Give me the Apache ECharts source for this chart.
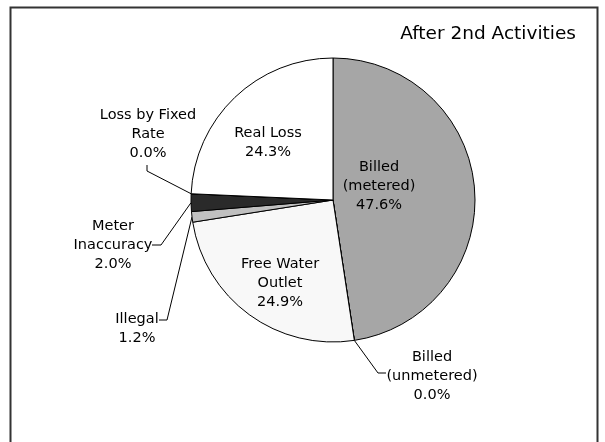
<!DOCTYPE html>
<html>
<head>
<meta charset="utf-8">
<style>
  html, body { margin: 0; padding: 0; background: #ffffff; }
  #chart { width: 605px; height: 442px; }
</style>
<script src="https://cdn.jsdelivr.net/npm/echarts@6/dist/echarts.min.js"></script>
</head>
<body>
<div id="chart"></div>
<script>
// Water balance shares (%), clockwise from 12 o'clock
const categories = [
  'Billed\n(metered)',
  'Billed\n(unmetered)',
  'Free Water\nOutlet',
  'Illegal',
  'Meter\nInaccuracy',
  'Loss by Fixed\nRate',
  'Real Loss'
];
const shares = [47.6, 0.0, 24.9, 1.2, 2.0, 0.0, 24.3];
const sliceColors = ['#a6a6a6', '#d9d9d9', '#f8f8f8', '#c0c0c0', '#2a2a2a', '#000000', '#ffffff'];
const chartTitle = 'After 2nd Activities';

// Label placement (label block centre, plus leader elbow/end for outside labels)
const labelPlacement = [
  { x: 379, y: 186, inside: true },
  { x: 432, y: 376, elbow: [378, 373], end: [386, 373] },
  { x: 280, y: 283, inside: true },
  { x: 137, y: 329, elbow: [167, 320], end: [159, 320] },
  { x: 113, y: 245, elbow: [161, 245], end: [152, 245] },
  { x: 148, y: 134, elbow: [147, 171], end: [147, 165] },
  { x: 268, y: 143, inside: true }
];

const FONT = 'DejaVu Sans';

const chart = echarts.init(document.getElementById('chart'), null, { renderer: 'canvas' });

const data = categories.map((name, i) => ({
  name: name,
  value: shares[i],
  itemStyle: { color: sliceColors[i] },
  label: { position: labelPlacement[i].inside ? 'inside' : 'outside' },
  labelLine: { show: !labelPlacement[i].inside }
}));

chart.setOption({
  animation: false,
  backgroundColor: '#ffffff',
  title: {
    text: chartTitle,
    right: 24,
    top: 20,
    textStyle: { fontFamily: FONT, fontSize: 18.5, fontWeight: 'normal', color: '#000000' }
  },
  graphic: [{
    type: 'rect',
    shape: { x: 10.5, y: 7.5, width: 587, height: 470 },
    style: { fill: 'none', stroke: '#333333', lineWidth: 2 },
    silent: true
  }],
  series: [{
    type: 'pie',
    center: [333, 200],
    radius: 142,
    startAngle: 90,
    clockwise: true,
    percentPrecision: 1,
    minShowLabelAngle: 0,
    avoidLabelOverlap: false,
    itemStyle: { borderColor: '#000000', borderWidth: 1 },
    label: {
      show: true,
      formatter: function (p) { return p.name + '\n' + p.percent.toFixed(1) + '%'; },
      fontFamily: FONT,
      fontSize: 14.5,
      lineHeight: 19,
      color: '#000000',
      align: 'center'
    },
    labelLine: {
      lineStyle: { color: '#000000', width: 1 }
    },
    labelLayout: function (params) {
      const p = labelPlacement[params.dataIndex];
      const out = { x: p.x, y: p.y, align: 'center', verticalAlign: 'middle' };
      if (!p.inside && params.labelLinePoints) {
        out.labelLinePoints = [params.labelLinePoints[0], p.elbow, p.end];
      }
      return out;
    },
    data: data
  }]
});
</script>
</body>
</html>
